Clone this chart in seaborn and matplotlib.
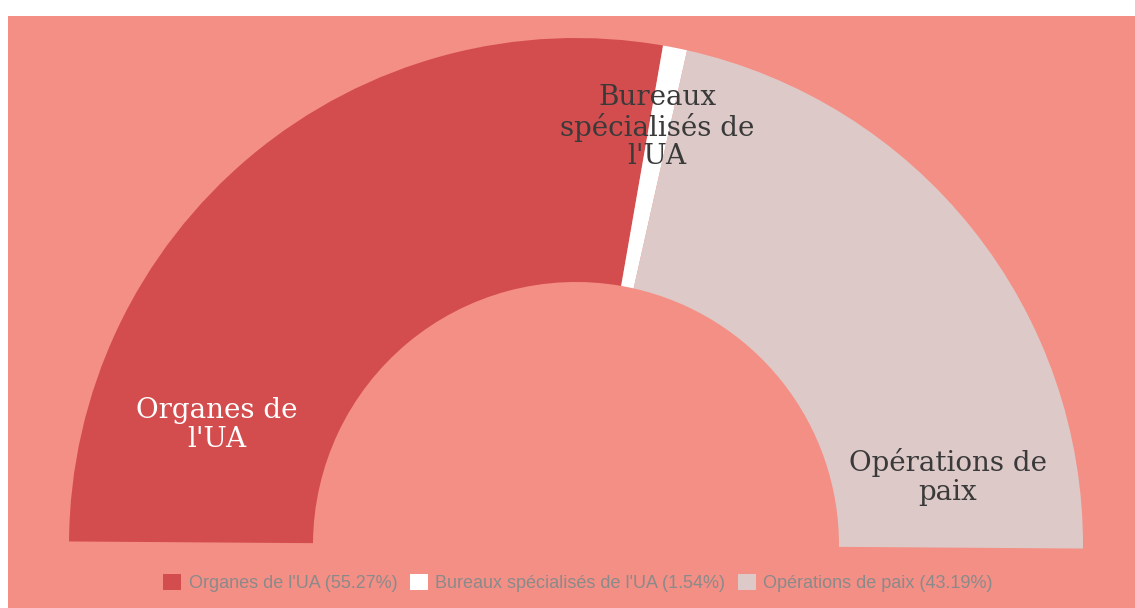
import numpy as np
import seaborn as sns
import matplotlib.pyplot as plt
from matplotlib.patches import Patch, Rectangle

# shares of the AU budget (percent)
categories = ["Organes de l'UA", "Bureaux spécialisés de l'UA", "Opérations de paix"]
shares = [55.27, 1.54, 43.19]
slice_labels = ["Organes de\nl'UA", "Bureaux\nspécialisés de\nl'UA", "Opérations de\npaix"]

colors = ["#D44D4E", "#FFFFFF", "#DDCAC8"]
label_colors = ["#FFFFFF", "#3A3A3A", "#3A3A3A"]
bg = "#F48F86"

sns.set_theme(style="white")

W, H = 1135, 608
fig = plt.figure(figsize=(W / 100, H / 100), dpi=100)
fig.patch.set_facecolor("white")
fig.patches.append(Rectangle((8 / W, 0), 1 - 8 / W, 1 - 16 / H,
                             transform=fig.transFigure, facecolor=bg,
                             edgecolor="none", zorder=-5))

ax = fig.add_axes([0, 0, 1, 1])
ax.set_facecolor("none")
ax.set_zorder(1)

# half donut: add a hidden wedge that fills the lower half
vals = shares + [sum(shares)]
cols = colors + ["none"]
cx, cy = 576, H - 545
r_out, r_in = 507, 263
ax.pie(vals, colors=cols, startangle=179.6, counterclock=False,
       center=(cx, cy), radius=r_out,
       wedgeprops=dict(width=r_out - r_in, linewidth=0))

# label placement (pixel positions)
label_pos = [(217, 425), (657, 127), (948, 477)]
for txt, (x, y), c in zip(slice_labels, label_pos, label_colors):
    ax.text(x, H - y, txt, ha="center", va="center", color=c,
            fontsize=20, family="DejaVu Serif", linespacing=1.08)

ax.set_xlim(0, W)
ax.set_ylim(0, H)
ax.set_aspect("equal")
ax.axis("off")

handles = [Patch(facecolor=c, edgecolor="none") for c in colors]
leg_labels = ["{} ({:.2f}%)".format(n, s) for n, s in zip(categories, shares)]
leg = fig.legend(handles, leg_labels, loc="center", ncol=3,
                 bbox_to_anchor=(578 / W, 1 - 583 / H), frameon=False,
                 prop={"family": "Liberation Sans", "size": 13},
                 handlelength=1.0, handleheight=1.0, handletextpad=0.4,
                 columnspacing=0.7, labelcolor="#8A8A8A")
leg.set_zorder(2)

fig.savefig("out.png", dpi=100, facecolor=fig.get_facecolor())
